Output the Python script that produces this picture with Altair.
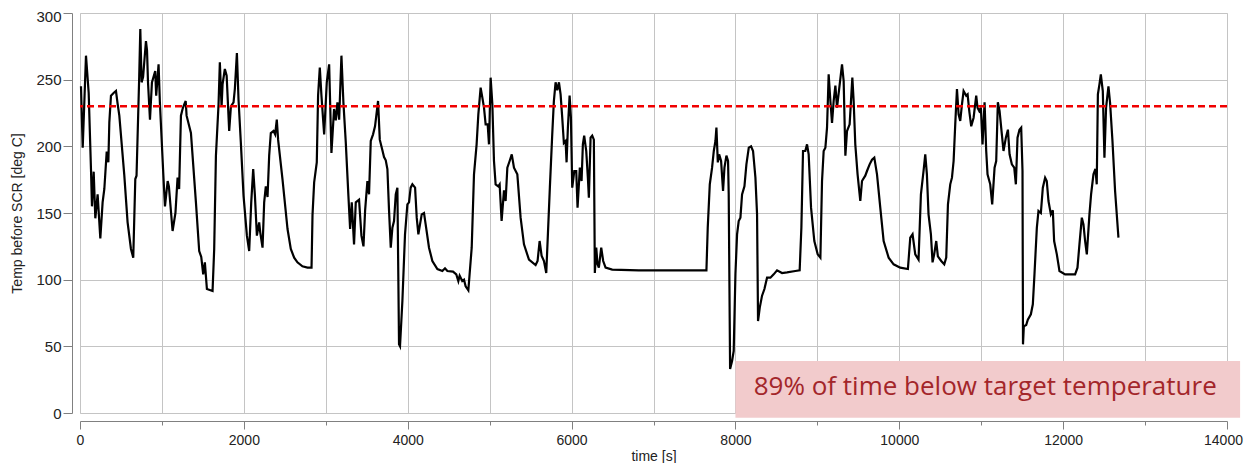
import altair as alt
import pandas as pd

# --- data ---
time_s = [12, 33, 73, 106, 134, 146, 167, 187, 215, 248, 276, 297, 326, 346, 358, 378, 410, 439, 459, 480,
          541, 581, 622, 650, 675, 690, 723, 736, 752, 770, 805, 818, 830, 854, 878, 918, 930, 959, 975, 1016,
          1037, 1070, 1085, 1130, 1165, 1191, 1210, 1232, 1252, 1272, 1290, 1301, 1354, 1415, 1455, 1480, 1504, 1524, 1549, 1618,
          1638, 1659, 1691, 1707, 1728, 1740, 1768, 1790, 1821, 1842, 1874, 1890, 1915, 1935, 1963, 1996, 2037, 2065, 2090, 2114,
          2135, 2159, 2187, 2200, 2228, 2248, 2268, 2289, 2309, 2329, 2362, 2382, 2402, 2418, 2472, 2533, 2573, 2614, 2654, 2715,
          2777, 2826, 2838, 2858, 2890, 2906, 2927, 2947, 2980, 3012, 3041, 3069, 3101, 3122, 3142, 3163, 3191, 3215, 3244, 3276,
          3297, 3317, 3345, 3366, 3406, 3435, 3460, 3480, 3508, 3528, 3549, 3577, 3601, 3638, 3659, 3691, 3711, 3732, 3752, 3772,
          3793, 3813, 3833, 3854, 3874, 3894, 3906, 3935, 3967, 3996, 4016, 4036, 4057, 4090, 4110, 4130, 4150, 4171, 4199, 4219,
          4260, 4301, 4362, 4423, 4455, 4484, 4553, 4593, 4618, 4634, 4666, 4687, 4707, 4740, 4781, 4809, 4841, 4862, 4890, 4911,
          4931, 4951, 4976, 4992, 5012, 5033, 5053, 5073, 5106, 5122, 5146, 5175, 5195, 5216, 5244, 5270, 5297, 5338, 5378, 5419,
          5480, 5561, 5585, 5610, 5634, 5663, 5691, 5711, 5735, 5764, 5784, 5805, 5825, 5846, 5866, 5886, 5906, 5927, 5939, 5955,
          5976, 5992, 6008, 6033, 6057, 6073, 6101, 6122, 6138, 6154, 6179, 6199, 6211, 6232, 6252, 6272, 6284, 6301, 6317, 6333,
          6362, 6386, 6415, 6496, 6820, 7024, 7300, 7646, 7662, 7687, 7715, 7736, 7756, 7768, 7785, 7801, 7825, 7849, 7866, 7890,
          7910, 7918, 7935, 7959, 7979, 8000, 8020, 8040, 8061, 8081, 8110, 8134, 8163, 8191, 8215, 8244, 8264, 8276, 8297, 8325,
          8354, 8386, 8427, 8467, 8508, 8569, 8630, 8731, 8784, 8805, 8825, 8853, 8874, 8894, 8923, 8963, 9004, 9037, 9057, 9077,
          9098, 9118, 9138, 9159, 9179, 9199, 9220, 9240, 9268, 9301, 9321, 9342, 9362, 9394, 9427, 9443, 9463, 9491, 9524, 9545,
          9585, 9606, 9638, 9667, 9695, 9728, 9768, 9809, 9870, 9931, 10012, 10105, 10134, 10162, 10195, 10235, 10264, 10296, 10317, 10337,
          10357, 10386, 10406, 10426, 10451, 10471, 10512, 10549, 10573, 10594, 10622, 10643, 10663, 10683, 10704, 10724, 10744, 10765, 10785, 10817,
          10834, 10854, 10878, 10907, 10939, 10955, 10976, 10996, 11016, 11041, 11061, 11077, 11110, 11134, 11163, 11183, 11203, 11224, 11252, 11272,
          11301, 11326, 11346, 11374, 11403, 11423, 11443, 11467, 11488, 11504, 11510, 11520, 11549, 11569, 11606, 11630, 11650, 11679, 11699, 11728,
          11752, 11780, 11800, 11821, 11850, 11874, 11890, 11923, 11955, 12024, 12146, 12175, 12199, 12228, 12248, 12268, 12289, 12321, 12341, 12370,
          12394, 12410, 12424, 12443, 12460, 12484, 12504, 12524, 12553, 12573, 12602, 12634, 12675]

temp_c = [245, 199, 268, 240, 183, 155, 181, 146, 164, 131, 158, 168, 196, 188, 218, 238, 240, 241.5, 232, 223,
          178, 143, 123, 116.5, 175.5, 178, 253, 288, 248, 252, 279, 272, 248, 220, 248, 256.5, 238, 261.5, 233, 180,
          155, 174, 170, 136.5, 150, 176.5, 168, 223, 228, 231.5, 234, 223, 210, 158, 121.5, 117, 104, 113, 93, 91.5,
          123, 193, 231.5, 263, 229.5, 246.5, 258, 253, 211.5, 230, 233, 243, 270, 235, 203, 163, 133, 121.5, 158, 183,
          163, 133, 143, 135.5, 124, 158, 170, 162, 193, 210, 211.5, 209, 220, 205, 175, 138, 123, 116.5, 113, 110,
          109, 109, 148.5, 173, 188, 238, 259, 238, 209, 248, 261.5, 195, 228, 219.5, 233, 220, 268, 233, 203, 163,
          138, 158, 126.5, 158, 160, 133, 125, 152, 174, 164, 204, 209, 215, 234, 205, 197, 192, 189.5, 183, 152,
          124, 139, 144, 164, 169, 51.5, 50, 84, 134, 156.5, 158, 169, 171.5, 169, 146.5, 134, 141.5, 149, 150, 141.5,
          124, 114, 108, 106.5, 108.5, 106.5, 106, 104, 99, 103, 99, 100, 95, 92, 124, 179, 201.5, 224, 244, 236.5,
          229, 216.5, 216.5, 201.5, 251.5, 231.5, 189, 171.5, 170, 171.5, 144, 167, 159, 184, 189, 194, 184, 179, 146.5, 126.5,
          115, 111, 114, 129, 118, 114, 105, 134, 169, 209, 234, 248, 242, 248, 239, 221.5, 202.5, 204, 188, 214,
          238, 221.5, 169, 181.5, 181.5, 154, 184, 174, 201.5, 208, 196.5, 176.5, 161.5, 206.5, 208, 205, 105, 124, 111.5, 109,
          124, 114, 109, 107.5, 107, 107, 107, 107, 139, 171.5, 184, 196.5, 204, 214, 188, 194, 189, 166.5, 184, 193,
          189, 164, 33, 39, 46.5, 104, 134, 144, 146.5, 164, 170, 186.5, 199, 200, 196.5, 176.5, 149, 69, 79, 88,
          93, 101.5, 101.5, 104, 107, 105, 105.5, 106.5, 107, 139, 196.5, 196.5, 201.5, 194, 154, 129, 119, 116.5, 174, 196.5,
          199, 214, 254, 234, 217.5, 234, 245.5, 229, 244, 261.5, 249, 193, 211.5, 216.5, 251.5, 234, 201.5, 179, 159, 174,
          178, 181.5, 186.5, 190, 191.5, 179, 154, 129, 116.5, 111.5, 109, 108, 131.5, 134, 119, 115, 164, 181.5, 194, 179,
          149, 134, 113, 119, 129, 117.5, 114, 111.5, 116.5, 156.5, 171.5, 176.5, 189, 216.5, 243, 224, 219, 231.5, 241.5, 238,
          239, 226.5, 215, 221.5, 238, 229, 226.5, 229, 201.5, 233, 196.5, 179, 171.5, 156.5, 184, 189, 233, 226.5, 209, 196.5,
          206.5, 212.5, 194, 186.5, 184, 171.5, 206.5, 212.5, 214, 181.5, 51.5, 65, 66, 70, 74, 81.5, 104, 139, 151.5, 150,
          169, 176.5, 174, 159, 149, 152, 129, 119, 106.5, 104, 104, 109, 126.5, 146.5, 141.5, 129, 119, 149, 164, 179,
          183, 171.5, 239, 246.5, 254, 241.5, 191.5, 229, 245, 232.5, 204, 166.5, 131.5]

target_temp = [230]
annotation_text = ["89% of time below target temperature"]

df = pd.DataFrame({"time": time_s, "temp": temp_c})
target_df = pd.DataFrame({"target": target_temp})
note_df = pd.DataFrame({"note": annotation_text})

FONT = "Liberation Sans"
AXIS_COL = "#808080"
TXT_COL = "#222222"
GRID_COL = "#c4c4c4"

x_axis = alt.Axis(
    values=list(range(0, 14001, 1000)),
    format="d",
    labelExpr="datum.value % 2000 === 0 ? datum.label : ''",
    labelOverlap=False,
    labelFlush=False,
    labelOffset={"condition": {"test": "datum.value === 14000", "value": -4}, "value": 0},
    tickSize={"condition": {"test": "datum.value % 2000 === 0", "value": 8}, "value": 4},
    tickColor=AXIS_COL,
    domainColor=AXIS_COL,
    offset=8,
    grid=True,
    gridColor=GRID_COL,
    labelFont=FONT, labelFontSize=14, labelColor=TXT_COL, labelPadding=4,
    title="time [s]", titleFont=FONT, titleFontSize=14, titleFontWeight="normal",
    titleColor=TXT_COL, titlePadding=2,
)

y_axis = alt.Axis(
    values=list(range(0, 301, 25)),
    labelExpr="datum.value % 50 === 0 ? datum.label : ''",
    labelOverlap=False,
    labelFlush=False,
    labelOffset={"condition": {"test": "datum.value === 300", "value": 3}, "value": 0},
    tickSize={"condition": {"test": "datum.value % 50 === 0", "value": 9}, "value": 5},
    tickColor=AXIS_COL,
    domainColor=AXIS_COL,
    offset=8,
    grid=True,
    gridColor=GRID_COL,
    gridOpacity={"condition": {"test": "datum.value % 50 === 0", "value": 1}, "value": 0},
    labelFont=FONT, labelFontSize=15, labelColor=TXT_COL, labelPadding=2,
    title="Temp before SCR [deg C]", titleFont=FONT, titleFontSize=14, titleFontWeight="normal",
    titleColor=TXT_COL, titlePadding=11,
)

xs = alt.Scale(domain=[0, 14000], nice=False)
ys = alt.Scale(domain=[0, 300], nice=False)

line = alt.Chart(df).mark_line(color="black", strokeWidth=2.2).encode(
    x=alt.X("time:Q", scale=xs, axis=x_axis),
    y=alt.Y("temp:Q", scale=ys, axis=y_axis),
)

rule = alt.Chart(target_df).mark_rule(color="#f00000", strokeWidth=2.5, strokeDash=[7, 4]).encode(
    y=alt.Y("target:Q"),
)

box = alt.Chart(note_df).mark_rect(color="#f2cbcc", clip=False).encode(
    x=alt.datum(8000, type="quantitative"),
    x2=alt.datum(14160),
    y=alt.datum(-3.5, type="quantitative"),
    y2=alt.datum(39),
)

label = alt.Chart(note_df).mark_text(
    font="Open Sans", fontSize=26, fontWeight="normal", color="#a3262a",
    align="center", baseline="middle", clip=False,
).encode(
    x=alt.datum(11049, type="quantitative"),
    y=alt.datum(19.5, type="quantitative"),
    text="note:N",
)

chart = alt.layer(line, rule, box, label).properties(
    width=1147,
    height=400,
    autosize=alt.AutoSizeParams(type="none"),
    padding={"left": 72, "top": 5, "right": 17, "bottom": 50},
).configure_view(stroke="#909090", strokeWidth=1).configure(background="white")

chart.save("out.html", embed_options={"renderer": "svg", "actions": False})
